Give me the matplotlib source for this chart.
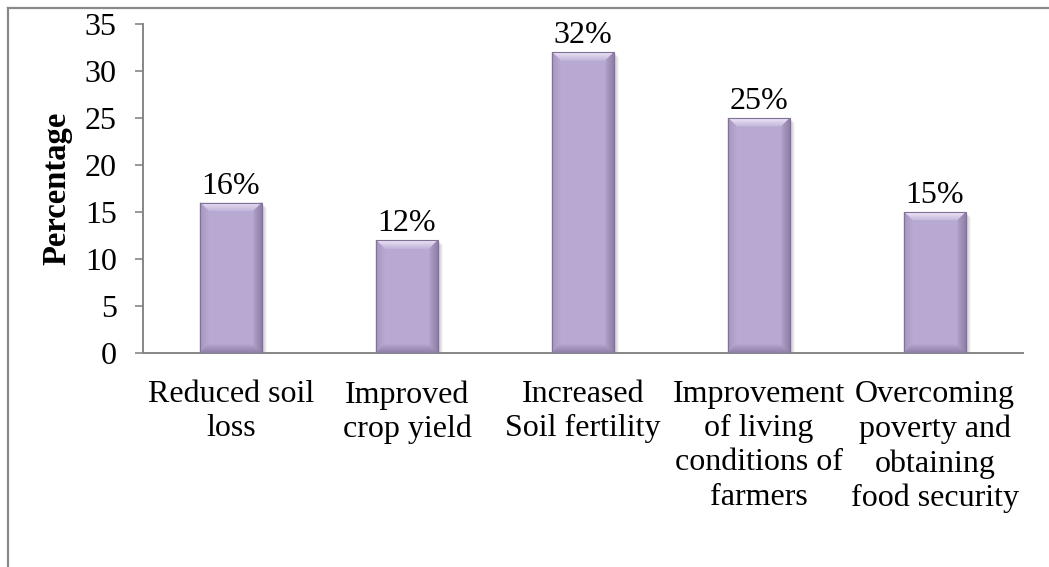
import matplotlib
matplotlib.use("Agg")
import matplotlib.pyplot as plt
import numpy as np
from matplotlib.colors import to_rgb
from matplotlib.patches import Polygon, Rectangle
from matplotlib.lines import Line2D

categories = [
    "Reduced soil\nloss",
    "Improved\ncrop yield",
    "Increased\nSoil fertility",
    "Improvement\nof living\nconditions of\nfarmers",
    "Overcoming\npoverty and\nobtaining\nfood security",
]
values = [16, 12, 32, 25, 15]
value_labels = ["16%", "12%", "32%", "25%", "15%"]
y_ticks = [0, 5, 10, 15, 20, 25, 30, 35]

W, H, DPI = 1049, 567, 100
plt.rcParams["font.family"] = ["Liberation Serif", "DejaVu Serif"]

fig = plt.figure(figsize=(W / DPI, H / DPI), dpi=DPI)
ax_l, ax_r, ax_b, ax_t = 143, 1023, 353, 24
ax = fig.add_axes([ax_l / W, 1 - ax_b / H, (ax_r - ax_l) / W, (ax_b - ax_t) / H])

xmin, xmax, ymin, ymax = -0.5, 4.5, 0, 35
ax.set_xlim(xmin, xmax)
ax.set_ylim(ymin, ymax)

# pixel -> data unit conversions for the bevel geometry
px_x = (xmax - xmin) / (ax_r - ax_l)
px_y = (ymax - ymin) / (ax_b - ax_t)

bar_w = 0.352
face = "#B8A9D2"
edge_c = "#7F7296"
# bevel colours: (outer edge colour, inner colour) per side
bevel_cols = {
    "top": ("#EFE6F7", "#C9BCDF"),
    "left": ("#A696C0", "#B5A6CF"),
    "right": ("#8F80A8", "#AB9CC5"),
    "bottom": ("#8E7FA6", "#AE9FC8"),
}
depth = 8
steps = 8


def mix(c1, c2, t):
    a, b = np.array(to_rgb(c1)), np.array(to_rgb(c2))
    return tuple(a + (b - a) * t)


def bevel_band(side, x0, x1, y0, y1, d0, d1):
    dx0, dx1 = d0 * px_x, d1 * px_x
    dy0, dy1 = d0 * px_y, d1 * px_y
    if side == "top":
        return [(x0 + dx0, y1 - dy0), (x1 - dx0, y1 - dy0), (x1 - dx1, y1 - dy1), (x0 + dx1, y1 - dy1)]
    if side == "bottom":
        return [(x0 + dx0, y0 + dy0), (x1 - dx0, y0 + dy0), (x1 - dx1, y0 + dy1), (x0 + dx1, y0 + dy1)]
    if side == "left":
        return [(x0 + dx0, y0 + dy0), (x0 + dx0, y1 - dy0), (x0 + dx1, y1 - dy1), (x0 + dx1, y0 + dy1)]
    return [(x1 - dx0, y0 + dy0), (x1 - dx0, y1 - dy0), (x1 - dx1, y1 - dy1), (x1 - dx1, y0 + dy1)]


for i, v in enumerate(values):
    x0, x1 = i - bar_w / 2, i + bar_w / 2
    y0, y1 = 0, v
    # soft drop shadow
    for k, a in ((5, 0.06), (4, 0.08), (3, 0.10), (2, 0.12)):
        ax.add_patch(Rectangle((x0 + k * px_x, y0), bar_w, v - k * px_y,
                               facecolor="#606060", edgecolor="none", alpha=a, zorder=2))
    ax.add_patch(Rectangle((x0, y0), bar_w, v, facecolor=face,
                           edgecolor="none", zorder=3))
    # graded bevel facets
    for side, (c_out, c_in) in bevel_cols.items():
        for s in range(steps):
            d0 = depth * s / steps
            d1 = depth * (s + 1) / steps
            col = mix(c_out, c_in, s / (steps - 1))
            ax.add_patch(Polygon(bevel_band(side, x0, x1, y0, y1, d0, d1), closed=True,
                                 facecolor=col, edgecolor=col, linewidth=0.3, zorder=4))
    ax.add_patch(Rectangle((x0, y0), bar_w, v, facecolor="none",
                           edgecolor=edge_c, linewidth=0.8, zorder=5))
    ax.annotate(value_labels[i], xy=(i, v), xytext=(0, 6.5), textcoords="offset points",
                ha="center", va="baseline", fontsize=23, color="black", zorder=6)

ax.set_xticks(range(len(categories)))
ax.set_xticklabels(categories, fontsize=23, linespacing=1.235)
ax.set_yticks(y_ticks)
ax.set_yticklabels([str(t) for t in y_ticks], fontsize=23)
ax.tick_params(axis="x", length=0, pad=19.5)
ax.tick_params(axis="y", direction="out", length=5.8, width=1.2, color="#868686", pad=13)

for s in ("top", "right"):
    ax.spines[s].set_visible(False)
for s in ("left", "bottom"):
    ax.spines[s].set_color("#868686")
    ax.spines[s].set_linewidth(1.4)

ax.set_ylabel("Percentage", fontsize=23.5, fontweight="bold")
ax.yaxis.set_label_coords((72 - ax_l) / (ax_r - ax_l), 0.5)

# chart-area frame along the left and top edges
fig.add_artist(Line2D([7.5 / W, 7.5 / W], [0, 1 - 7.5 / H], transform=fig.transFigure,
                      color="#898989", linewidth=1.6))
fig.add_artist(Line2D([7.5 / W, 1], [1 - 7.5 / H, 1 - 7.5 / H], transform=fig.transFigure,
                      color="#898989", linewidth=1.6))

fig.savefig("out.png", dpi=DPI)
